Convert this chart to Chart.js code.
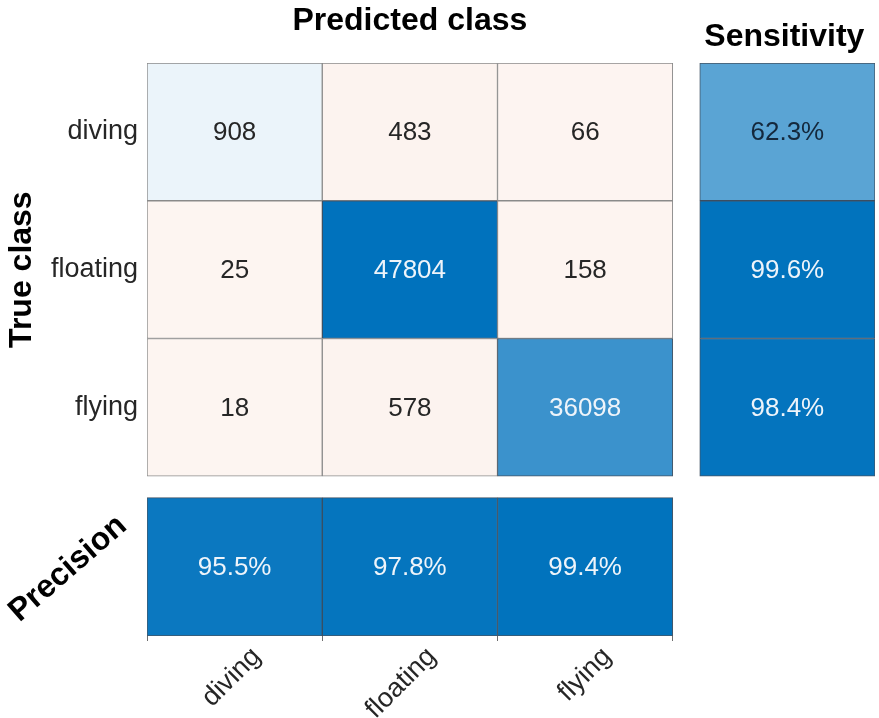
<!DOCTYPE html>
<html>
<head>
<meta charset="utf-8">
<style>
  html, body { margin: 0; padding: 0; background: #fff; }
  #wrap { position: relative; width: 879px; height: 718px; }
</style>
<script src="https://cdn.jsdelivr.net/npm/chart.js@4/dist/chart.umd.min.js"></script>
</head>
<body>
<div id="wrap"><canvas id="cm" width="879" height="718"></canvas></div>
<script>
// confusion matrix values, rows = true class, columns = predicted class
const classNames = ['diving', 'floating', 'flying'];
const divingRow = [908, 483, 66];
const floatingRow = [25, 47804, 158];
const flyingRow = [18, 578, 36098];
const sensitivity = [62.3, 99.6, 98.4];
const precision = [95.5, 97.8, 99.4];

const counts = [divingRow, floatingRow, flyingRow];

// layout in cell units
const SIDE_GAP = 0.154;
const ROW_GAP = 0.155;
const PREC_H = 1.005;
const X_MAX = 3 + SIDE_GAP + 1;
const Y_MAX = 3 + ROW_GAP + PREC_H;

const FONT = '"Liberation Sans", Arial, Helvetica, sans-serif';
const BLUE = [0, 114, 189];
const RED = [217, 83, 25];

function blend(base, t) {
  return 'rgb(' + base.map((c) => Math.round(255 + (c - 255) * t)).join(',') + ')';
}

function shade(v, max) {
  return 0.06 + 0.94 * (v / max);
}

const maxCount = Math.max(...counts.flat());

// one bar per cell
const cells = [];
counts.forEach((row, r) => {
  row.forEach((v, c) => {
    const t = shade(v, maxCount);
    cells.push({ x: c + 0.5, y: [r, r + 1], label: String(v), t: t, base: r == c ? BLUE : RED });
  });
});
sensitivity.forEach((v, r) => {
  cells.push({ x: 3 + SIDE_GAP + 0.5, y: [r, r + 1], label: v.toFixed(1) + '%', t: shade(v, 100), base: BLUE });
});
precision.forEach((v, c) => {
  cells.push({ x: c + 0.5, y: [3 + ROW_GAP, Y_MAX], label: v.toFixed(1) + '%', t: shade(v, 100), base: BLUE });
});

const cellText = {
  id: 'cellText',
  afterDatasetsDraw(chart) {
    const ctx = chart.ctx;
    const meta = chart.getDatasetMeta(0);
    ctx.save();
    ctx.font = '26px ' + FONT;
    ctx.textAlign = 'center';
    ctx.textBaseline = 'middle';
    meta.data.forEach((bar, i) => {
      const cell = cells[i];
      const p = bar.getProps(['x', 'y', 'base'], true);
      ctx.fillStyle = cell.t > 0.7 ? '#eef4fa' : (cell.t > 0.3 ? '#14283c' : '#262626');
      ctx.fillText(cell.label, p.x, (p.y + p.base) / 2 + 1);
    });
    ctx.restore();
  },
};

const titles = {
  id: 'titles',
  afterDraw(chart) {
    const ctx = chart.ctx;
    const xs = chart.scales.x;
    const ys = chart.scales.y;
    ctx.save();
    ctx.fillStyle = '#000';
    ctx.font = 'bold 32px ' + FONT;
    ctx.textAlign = 'center';
    ctx.textBaseline = 'alphabetic';
    ctx.fillText('Predicted class', xs.getPixelForValue(1.5), 30);
    ctx.fillText('Sensitivity', xs.getPixelForValue(3 + SIDE_GAP + 0.5) - 3, 46);

    ctx.save();
    ctx.translate(31, ys.getPixelForValue(1.5));
    ctx.rotate(-Math.PI / 2);
    ctx.fillText('True class', 0, 0);
    ctx.restore();

    ctx.save();
    ctx.translate(68, ys.getPixelForValue(3 + ROW_GAP + PREC_H / 2) + 2);
    ctx.rotate((-41 * Math.PI) / 180);
    ctx.textBaseline = 'middle';
    ctx.fillText('Precision', 0, 0);
    ctx.restore();

    ctx.restore();
  },
};

const centerTicks = (scale) => {
  scale.ticks = classNames.map((n, i) => ({ value: i + 0.5 }));
};

new Chart(document.getElementById('cm'), {
  type: 'bar',
  data: {
    datasets: [
      {
        data: cells,
        backgroundColor: (ctx) => blend(cells[ctx.dataIndex].base, cells[ctx.dataIndex].t),
        borderColor: (ctx) => (cells[ctx.dataIndex].t > 0.5 ? 'rgba(35,55,75,0.85)' : '#8a8a8a'),
        borderWidth: 1,
        borderSkipped: false,
        barPercentage: 1,
        categoryPercentage: 1,
      },
    ],
  },
  options: {
    responsive: false,
    animation: false,
    devicePixelRatio: 1,
    layout: { padding: { top: 63, right: 4, left: 0, bottom: 0 } },
    plugins: {
      legend: { display: false },
      tooltip: { enabled: false },
    },
    scales: {
      x: {
        type: 'linear',
        min: 0,
        max: X_MAX,
        offset: false,
        afterBuildTicks: centerTicks,
        afterFit: (scale) => {
          scale.height = 82;
        },
        border: { display: false },
        grid: {
          offset: true,
          drawOnChartArea: false,
          drawTicks: true,
          tickLength: 5,
          color: '#6e6e6e',
        },
        ticks: {
          autoSkip: false,
          minRotation: 45,
          maxRotation: 45,
          padding: 0,
          labelOffset: 22,
          color: '#262626',
          font: { family: FONT, size: 27 },
          callback: (v, i) => classNames[i],
        },
      },
      y: {
        type: 'linear',
        reverse: true,
        min: 0,
        max: Y_MAX,
        afterBuildTicks: centerTicks,
        afterFit: (scale) => {
          scale.width = 147;
        },
        border: { display: false },
        grid: { display: false },
        ticks: {
          autoSkip: false,
          padding: 1,
          color: '#262626',
          font: { family: FONT, size: 27 },
          callback: (v, i) => classNames[i],
        },
      },
    },
  },
  plugins: [cellText, titles],
});
</script>
</body>
</html>
